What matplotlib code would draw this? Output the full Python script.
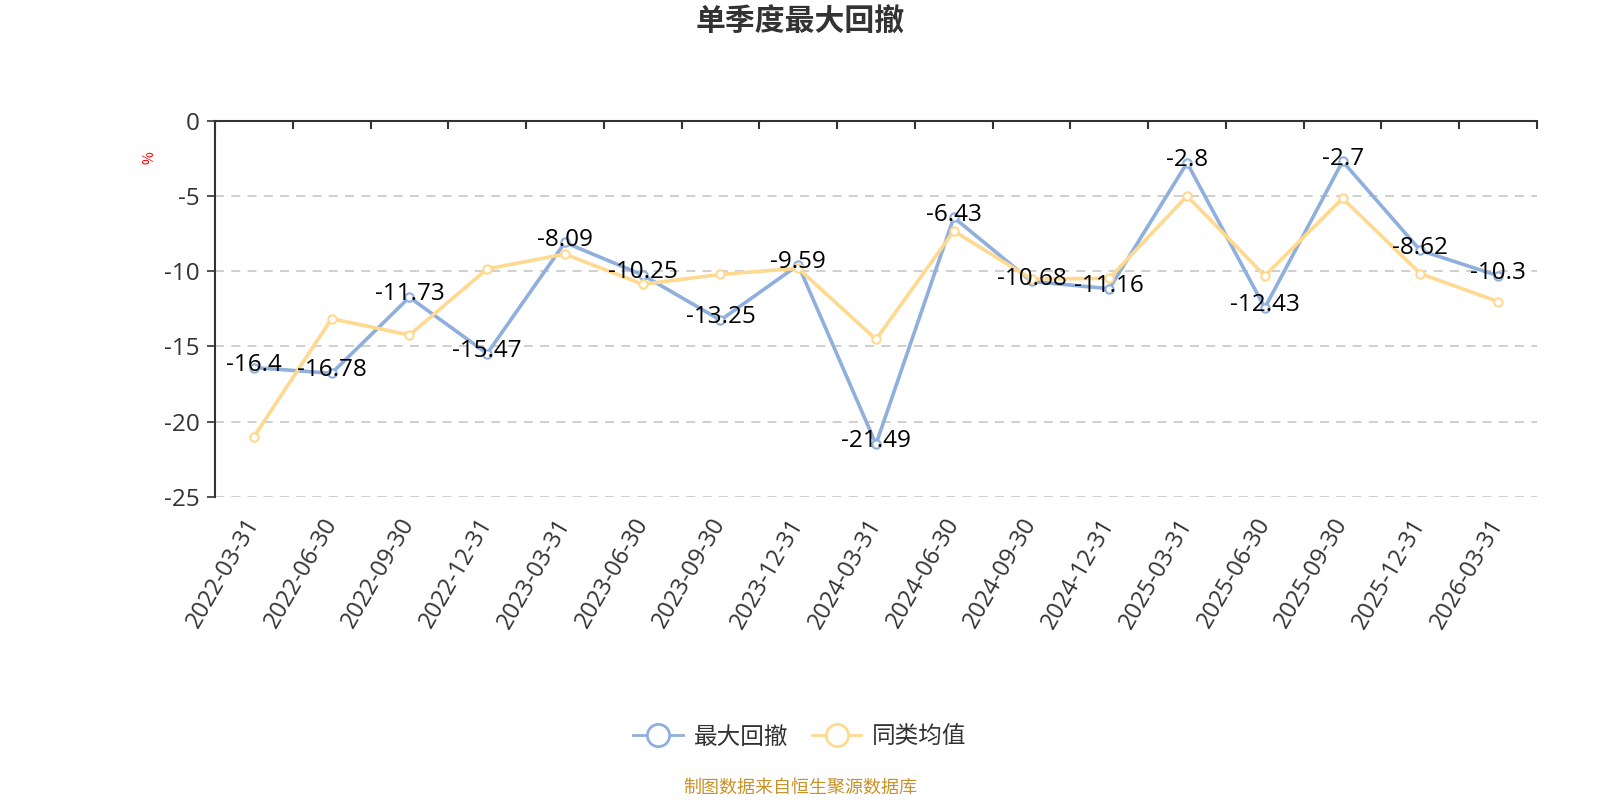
import matplotlib
matplotlib.use("Agg")
import matplotlib.pyplot as plt
from matplotlib.lines import Line2D
import numpy as np

plt.rcParams['font.family'] = ['Noto Sans CJK SC', 'DejaVu Sans']
plt.rcParams['axes.unicode_minus'] = False
NUM_FONT = ['Open Sans', 'Noto Sans CJK SC', 'DejaVu Sans']

title = "单季度最大回撤"
categories = ["2022-03-31", "2022-06-30", "2022-09-30", "2022-12-31", "2023-03-31",
              "2023-06-30", "2023-09-30", "2023-12-31", "2024-03-31", "2024-06-30",
              "2024-09-30", "2024-12-31", "2025-03-31", "2025-06-30", "2025-09-30",
              "2025-12-31", "2026-03-31"]
max_drawdown = [-16.4, -16.78, -11.73, -15.47, -8.09, -10.25, -13.25, -9.59, -21.49,
                -6.43, -10.68, -11.16, -2.8, -12.43, -2.7, -8.62, -10.3]
peer_avg = [-21.0, -13.15, -14.24, -9.85, -8.86, -10.87, -10.21, -9.81, -14.53,
            -7.33, -10.52, -10.47, -5.0, -10.3, -5.16, -10.16, -12.02]
series_names = ["最大回撤", "同类均值"]
y_ticks = [0, -5, -10, -15, -20, -25]
y_unit = "%"
source_text = "制图数据来自恒生聚源数据库"

blue = "#8FAFDD"
yellow = "#FFD990"

fig = plt.figure(figsize=(16, 8), dpi=100)
ax = fig.add_axes([215/1600, 1-497/800, (1537-215)/1600, (497-120.7)/800])

x = np.arange(len(categories))
for vals, col in [(max_drawdown, blue), (peer_avg, yellow)]:
    ax.plot(x, vals, color=col, lw=2.6, marker='o', markersize=6,
            markerfacecolor='white', markeredgecolor=col, markeredgewidth=1.5,
            zorder=3)

for xi, v in zip(x, max_drawdown):
    ax.annotate(f"{v:g}", (xi, v), xytext=(0, 2), textcoords='offset points',
                ha='center', va='center', fontsize=17.5, color='black', zorder=4,
                family=NUM_FONT)

ax.set_xlim(-0.5, len(categories) - 0.5)
ax.set_ylim(-25, 0)
ax.set_yticks(y_ticks)
ax.set_yticklabels([str(t) for t in y_ticks], family=NUM_FONT)
ax.set_xticks(x)
ax.set_xticklabels(categories, rotation=60, ha='right', rotation_mode='anchor',
                   va='center', family=NUM_FONT)
ax.set_xticks(np.arange(-0.5, len(categories), 1), minor=True)

ax.tick_params(axis='x', which='major', bottom=False, top=False, labelbottom=True,
               labelsize=17, labelcolor='#333333', pad=13)
ax.tick_params(axis='x', which='minor', bottom=False, top=True, direction='in',
               length=6, width=1.5, color='#333333')
ax.tick_params(axis='y', which='major', left=True, direction='out', length=6,
               width=1.2, color='#333333', labelsize=17.5, labelcolor='#333333', pad=5)

for s in ['right', 'bottom']:
    ax.spines[s].set_visible(False)
for s in ['left', 'top']:
    ax.spines[s].set_color('#333333')
    ax.spines[s].set_linewidth(1.5)

for t in y_ticks[1:]:
    ax.axhline(t, color='#CCCCCC', lw=1.3, ls=(0, (5, 4)), zorder=1)

fig.text(800/1600, 1-22/800, title, ha='center', va='center', fontsize=21.5,
         fontweight='bold', color='#333333')
fig.text(150/1600, 1-158/800, y_unit, ha='center', va='center', fontsize=10,
         color='red', rotation=90)

handles = [Line2D([0], [0], color=c, lw=2, marker='o', markersize=16,
                  markerfacecolor='white', markeredgecolor=c, markeredgewidth=2)
           for c in (blue, yellow)]
fig.legend(handles, series_names, loc='center', bbox_to_anchor=(0.5, 1-737/800),
           ncol=2, frameon=False, fontsize=17, handlelength=2.1,
           columnspacing=1.0, handletextpad=0.45, labelcolor='#333333')

fig.text(800/1600, 1-788/800, source_text, ha='center', va='center', fontsize=13,
         color='#C8922A')

fig.savefig("out.png", dpi=100)
